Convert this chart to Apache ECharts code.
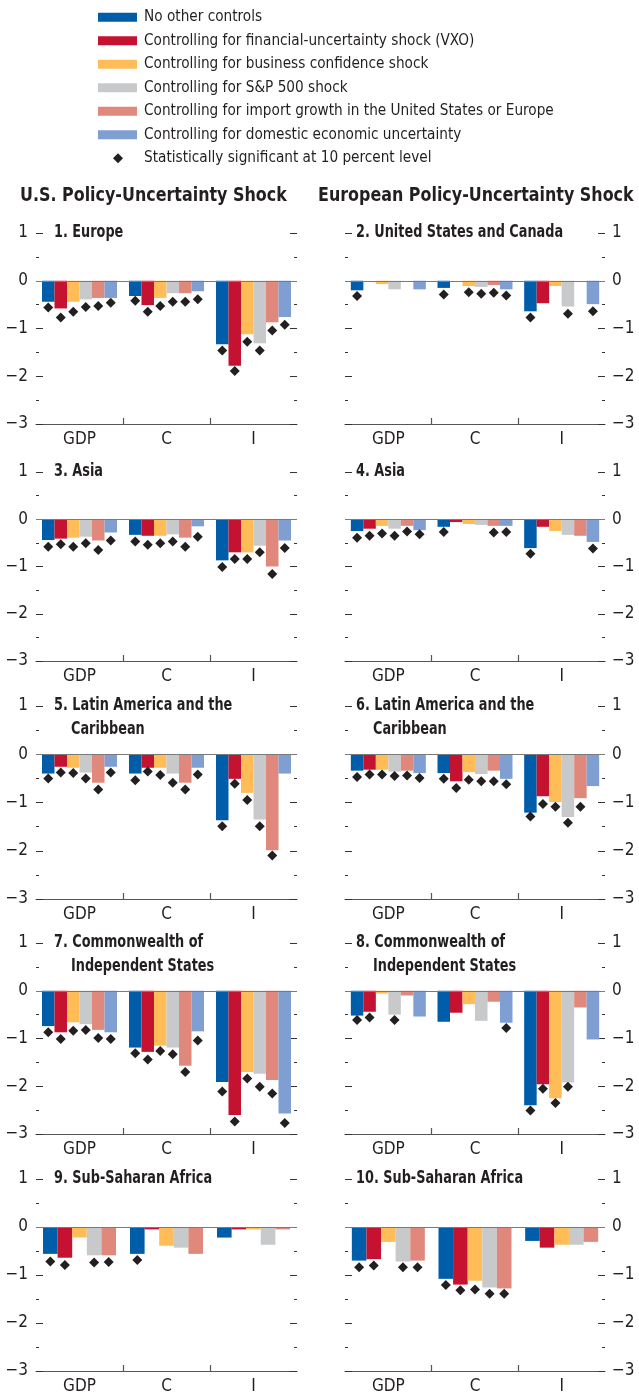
<!DOCTYPE html>
<html><head><meta charset="utf-8">
<script src="https://cdn.jsdelivr.net/npm/echarts@6/dist/echarts.min.js"></script>
<style>html,body{margin:0;padding:0;background:#fff}#c{width:639px;height:1397px}</style>
</head><body><div id="c"></div>
<script>
// ---------- data ----------
const categories = ['GDP', 'C', 'I'];
const seriesNames = [
  'No other controls',
  'Controlling for financial-uncertainty shock (VXO)',
  'Controlling for business confidence shock',
  'Controlling for S&P 500 shock',
  'Controlling for import growth in the United States or Europe',
  'Controlling for domestic economic uncertainty'
];
const sigName = 'Statistically significant at 10 percent level';
const columnTitles = ['U.S. Policy-Uncertainty Shock', 'European Policy-Uncertainty Shock'];
const panelTitles = [
  ['1. Europe'], ['2. United States and Canada'],
  ['3. Asia'], ['4. Asia'],
  ['5. Latin America and the', 'Caribbean'], ['6. Latin America and the', 'Caribbean'],
  ['7. Commonwealth of', 'Independent States'], ['8. Commonwealth of', 'Independent States'],
  ['9. Sub-Saharan Africa'], ['10. Sub-Saharan Africa']
];
const yMin = -3, yMax = 1, yStep = 1;

// bar values: one row per series, columns GDP, C, I
const p1Bars = [[-0.44,-0.32,-1.33],[-0.58,-0.51,-1.78],[-0.44,-0.36,-1.12],[-0.39,-0.26,-1.31],[-0.36,-0.26,-0.87],[-0.36,-0.22,-0.76]];
const p1Sig  = [[-0.56,-0.42,-1.46],[-0.77,-0.65,-1.89],[-0.65,-0.53,-1.28],[-0.55,-0.44,-1.46],[-0.53,-0.44,-1.04],[-0.46,-0.39,-0.92]];
const p2Bars = [[-0.20,-0.15,-0.64],[0,0,-0.47],[-0.07,-0.11,-0.11],[-0.18,-0.13,-0.54],[0,-0.09,0],[-0.18,-0.18,-0.49]];
const p2Sig  = [[-0.32,-0.29,-0.77],[null,null,null],[null,-0.24,null],[null,-0.27,-0.69],[null,-0.25,null],[null,-0.31,-0.64]];
const p3Bars = [[-0.44,-0.33,-0.87],[-0.41,-0.35,-0.70],[-0.39,-0.35,-0.70],[-0.37,-0.32,-0.56],[-0.45,-0.39,-1.00],[-0.28,-0.15,-0.45]];
const p3Sig  = [[-0.58,-0.47,-1.01],[-0.53,-0.54,-0.84],[-0.58,-0.51,-0.84],[-0.51,-0.47,-0.70],[-0.65,-0.58,-1.16],[-0.45,-0.37,-0.61]];
const p4Bars = [[-0.25,-0.16,-0.61],[-0.20,-0.06,-0.16],[-0.14,-0.10,-0.25],[-0.20,-0.12,-0.33],[-0.14,-0.14,-0.35],[-0.23,-0.14,-0.48]];
const p4Sig  = [[-0.39,-0.27,-0.73],[-0.35,null,null],[-0.30,null,null],[-0.35,null,null],[-0.26,-0.28,null],[-0.32,-0.27,-0.62]];
const p5Bars = [[-0.40,-0.40,-1.37],[-0.26,-0.28,-0.51],[-0.28,-0.28,-0.80],[-0.38,-0.40,-1.35],[-0.59,-0.59,-1.99],[-0.26,-0.28,-0.40]];
const p5Sig  = [[-0.50,-0.54,-1.49],[-0.38,-0.36,-0.61],[-0.39,-0.43,-0.95],[-0.50,-0.59,-1.49],[-0.73,-0.73,-2.10],[-0.38,-0.42,null]];
const p6Bars = [[-0.34,-0.39,-1.21],[-0.32,-0.56,-0.87],[-0.32,-0.37,-0.99],[-0.36,-0.41,-1.30],[-0.34,-0.34,-0.91],[-0.39,-0.51,-0.66]];
const p6Sig  = [[-0.47,-0.51,-1.29],[-0.42,-0.70,-1.03],[-0.42,-0.53,-1.09],[-0.45,-0.56,-1.42],[-0.44,-0.56,-1.09],[-0.49,-0.62,null]];
const p7Bars = [[-0.74,-1.19,-1.91],[-0.87,-1.28,-2.60],[-0.66,-1.15,-1.70],[-0.70,-1.19,-1.74],[-0.82,-1.57,-1.87],[-0.87,-0.85,-2.57]];
const p7Sig  = [[-0.87,-1.31,-2.11],[-1.01,-1.44,-2.74],[-0.84,-1.26,-1.84],[-0.82,-1.33,-2.01],[-0.99,-1.70,-2.15],[-1.01,-1.04,-2.77]];
const p8Bars = [[-0.52,-0.65,-2.40],[-0.44,-0.46,-1.96],[-0.06,-0.28,-2.25],[-0.50,-0.63,-1.92],[-0.10,-0.23,-0.35],[-0.54,-0.67,-1.02]];
const p8Sig  = [[-0.61,null,-2.51],[-0.56,null,-2.05],[null,null,-2.35],[-0.61,null,-2.01],[null,null,null],[null,-0.78,null]];
const p9Bars = [[-0.56,-0.56,-0.22],[-0.64,-0.05,-0.05],[-0.22,-0.39,-0.05],[-0.59,-0.43,-0.37],[-0.59,-0.56,-0.05]];
const p9Sig  = [[-0.72,-0.69,null],[-0.79,null,null],[null,null,null],[-0.74,null,null],[-0.73,null,null]];
const p10Bars = [[-0.70,-1.08,-0.29],[-0.67,-1.20,-0.43],[-0.31,-1.12,-0.37],[-0.72,-1.26,-0.37],[-0.70,-1.28,-0.31]];
const p10Sig  = [[-0.84,-1.21,null],[-0.80,-1.32,null],[null,-1.30,null],[-0.84,-1.39,null],[-0.84,-1.39,null]];

const panelBars = [p1Bars,p2Bars,p3Bars,p4Bars,p5Bars,p6Bars,p7Bars,p8Bars,p9Bars,p10Bars];
const panelSig  = [p1Sig,p2Sig,p3Sig,p4Sig,p5Sig,p6Sig,p7Sig,p8Sig,p9Sig,p10Sig];

// ---------- style / layout ----------
const colors = ['#005DAA', '#C41230', '#FFBC57', '#C8C9CA', '#E0887C', '#7F9FD3'];
const ink = '#231F20';
const FONT = "'Liberation Sans Narrow', 'Arial Narrow', 'DejaVu Sans Condensed', sans-serif";
const colLeft = [36, 345];
const colWidth = [261, 260];
const rowTop = [233, 472, 706, 943, 1179];
const rowHeight = [191, 189, 193, 191, 192];
const groupFill = { 6: 75, 5: 73 };   // pixels occupied by the bars of one group

const grids = [], xAxes = [], yAxes = [], series = [], graphics = [];
const fmt = v => (v < 0 ? '\u2212' + Math.abs(v) : String(v));

columnTitles.forEach((t, c) => {
  graphics.push({ type: 'text', x: c === 0 ? 20 : 318, y: 196, scaleX: 0.885, silent: true,
    style: { text: t, fill: ink, font: "bold 20px " + FONT, fontFamily: FONT, fontSize: 20, fontWeight: 'bold',
      textVerticalAlign: 'middle', verticalAlign: 'middle' } });
});

panelBars.forEach((bars, p) => {
  const col = p % 2, row = Math.floor(p / 2);
  const n = bars.length;
  const bw = groupFill[n] / n;
  grids.push({ left: colLeft[col], top: rowTop[row], width: colWidth[col], height: rowHeight[row] });
  xAxes.push({
    type: 'category', gridIndex: p, data: categories, position: 'bottom',
    axisLine: { show: true, onZero: false, lineStyle: { color: '#555', width: 1.2 } },
    axisTick: { show: false },
    axisLabel: { color: ink, fontSize: 17, fontFamily: FONT, margin: 7 },
    splitLine: { show: false }
  });
  xAxes.push({
    type: 'value', gridIndex: p, min: 0, max: 3, interval: 1, position: 'bottom',
    axisLine: { show: false, onZero: false },
    axisTick: { show: true, inside: true, length: 6, customValues: [1, 2], lineStyle: { color: '#555', width: 1.2 } },
    axisLabel: { show: false }, splitLine: { show: false }
  });
  const labelSide = col === 0 ? 'left' : 'right';
  const otherSide = col === 0 ? 'right' : 'left';
  const yBase = {
    type: 'value', gridIndex: p, min: yMin, max: yMax, interval: yStep,
    axisLine: { show: false, onZero: false },
    axisTick: { show: true, inside: true, length: 7, lineStyle: { color: '#333', width: 1 } },
    minorTick: { show: true, splitNumber: 2, length: 3, lineStyle: { color: '#333', width: 1 } },
    splitLine: { show: false }, minorSplitLine: { show: false }
  };
  yAxes.push(Object.assign({}, yBase, { position: labelSide,
    axisLabel: { show: true, color: ink, fontSize: 17, fontFamily: FONT, margin: col === 0 ? 8 : 7, formatter: fmt } }));
  yAxes.push(Object.assign({}, yBase, { position: otherSide, axisLabel: { show: false } }));

  bars.forEach((vals, i) => {
    const s = {
      type: 'bar', name: seriesNames[i], xAxisIndex: 2 * p, yAxisIndex: 2 * p,
      data: vals, barWidth: bw, barGap: '0%', itemStyle: { color: colors[i] }, z: 2
    };
    if (i === 0) {
      s.markLine = { silent: true, symbol: 'none', label: { show: false }, animation: false,
        lineStyle: { color: '#7a7a7a', width: 1.2, type: 'solid' }, data: [{ yAxis: 0 }], z: 3 };
    }
    series.push(s);
  });
  panelSig[p].forEach((vals, i) => {
    series.push({
      type: 'scatter', name: sigName, xAxisIndex: 2 * p, yAxisIndex: 2 * p,
      data: vals, symbol: 'diamond', symbolSize: [10, 10],
      symbolOffset: [(i - (n - 1) / 2) * bw, 0],
      itemStyle: { color: ink, opacity: 1 }, z: 4
    });
  });

  const tx = colLeft[col] + (col === 0 ? 18 : 11);
  panelTitles[p].forEach((line, k) => {
    graphics.push({ type: 'text', x: tx + (k > 0 ? 17 : 0), y: rowTop[row] + k * 23.5, scaleX: 0.84, silent: true,
      style: { text: line, fill: ink, font: "bold 17px " + FONT, fontFamily: FONT, fontSize: 17, fontWeight: 'bold',
        textVerticalAlign: 'middle', verticalAlign: 'middle' } });
  });
});

const chart = echarts.init(document.getElementById('c'), null, { renderer: 'canvas' });
chart.setOption({
  animation: false,
  backgroundColor: '#fff',
  textStyle: { fontFamily: FONT },
  legend: [{
    data: seriesNames.map(nm => ({ name: nm, icon: 'rect' })), orient: 'vertical', left: 98, top: 5.5, padding: 0,
    itemWidth: 39, itemHeight: 9, itemGap: 0, selectedMode: false,
    textStyle: { color: ink, fontSize: 15.2, fontFamily: FONT, lineHeight: 23.5, padding: [0, 0, 0, 2] }
  }, {
    data: [{ name: sigName, icon: 'diamond' }], orient: 'vertical', left: 113, top: 5.5 + 6 * 23.5, padding: 0,
    itemWidth: 10, itemHeight: 10, itemGap: 0, selectedMode: false,
    itemStyle: { color: ink, opacity: 1 },
    textStyle: { color: ink, fontSize: 15.2, fontFamily: FONT, lineHeight: 23.5, padding: [0, 0, 0, 16] }
  }],
  grid: grids, xAxis: xAxes, yAxis: yAxes, series: series, graphic: graphics
});
</script></body></html>
